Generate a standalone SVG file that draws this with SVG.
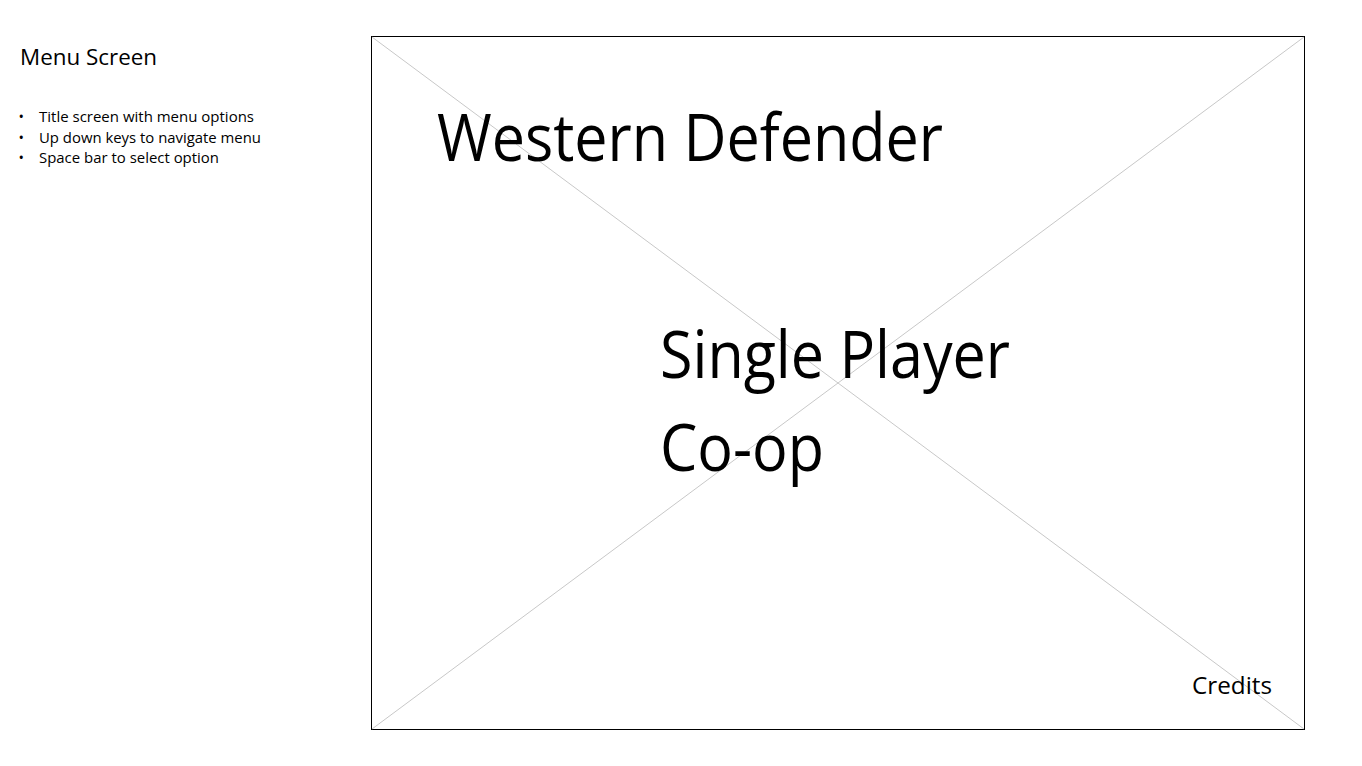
<svg xmlns="http://www.w3.org/2000/svg" width="1362" height="766" viewBox="0 0 1362 766">
<style>
text{font-family:"Open Sans","Noto Sans",sans-serif;fill:#000}
.diag{stroke:#c8c8c8;stroke-width:1}
</style>
<rect width="1362" height="766" fill="#fff"/>
<g id="notes">
<text x="20" y="65" font-size="21" textLength="137" lengthAdjust="spacingAndGlyphs">Menu Screen</text>
<g font-size="14.5">
<text x="18.5" y="122">•</text>
<text x="39" y="122" textLength="215" lengthAdjust="spacingAndGlyphs">Title screen with menu options</text>
<text x="18.5" y="143">•</text>
<text x="39" y="143" textLength="222" lengthAdjust="spacingAndGlyphs">Up down keys to navigate menu</text>
<text x="18.5" y="163">•</text>
<text x="39" y="163" textLength="180" lengthAdjust="spacingAndGlyphs">Space bar to select option</text>
</g>
</g>
<g id="screen">
<rect x="371.5" y="36.5" width="933" height="693" fill="none" stroke="#000" stroke-width="1"/>
<line class="diag" x1="372" y1="37" x2="1304" y2="729"/>
<line class="diag" x1="1304" y1="37" x2="372" y2="729"/>
<text x="437" y="161" font-size="66" textLength="506" lengthAdjust="spacingAndGlyphs">Western Defender</text>
<text x="660" y="378" font-size="66" textLength="350" lengthAdjust="spacingAndGlyphs">Single Player</text>
<text x="660" y="471" font-size="66" textLength="164" lengthAdjust="spacingAndGlyphs">Co-op</text>
<text x="1192" y="694" font-size="24" textLength="80" lengthAdjust="spacingAndGlyphs">Credits</text>
</g>
</svg>
